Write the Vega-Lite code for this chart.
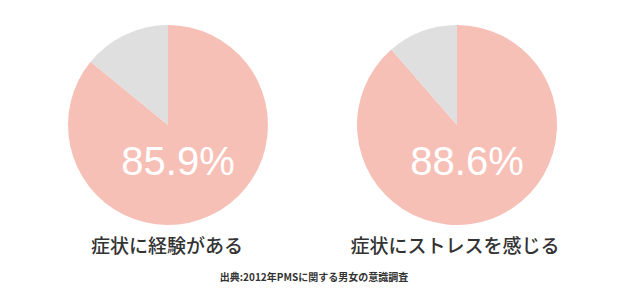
{
  "$schema": "https://vega.github.io/schema/vega-lite/v6.json",
  "width": 640,
  "height": 306,
  "padding": 0,
  "autosize": {"type": "fit", "contains": "padding"},
  "background": "#ffffff",
  "config": {"view": {"stroke": null}},
  "datasets": {
    "pies": [
      {"chart": "経験", "part": "yes", "value": 85.9},
      {"chart": "経験", "part": "no", "value": 14.1},
      {"chart": "ストレス", "part": "yes", "value": 88.6},
      {"chart": "ストレス", "part": "no", "value": 11.4}
    ],
    "labels": [
      {"chart": "経験", "pct": "85.9%", "label": "症状に経験がある"},
      {"chart": "ストレス", "pct": "88.6%", "label": "症状にストレスを感じる"}
    ]
  },
  "layer": [
    {
      "data": {"name": "pies"},
      "transform": [
        {"calculate": "datum.part === 'yes' ? 0 : 1", "as": "ord"},
        {"stack": "value", "groupby": ["chart"], "sort": [{"field": "ord", "order": "ascending"}], "as": ["v0", "v1"]}
      ],
      "mark": {"type": "arc", "outerRadius": 100, "stroke": null},
      "encoding": {
        "x": {"field": "chart", "type": "nominal", "sort": ["経験", "ストレス"], "scale": {"type": "point", "range": [168, 457], "padding": 0}, "axis": null},
        "y": {"value": 125},
        "theta": {"field": "v0", "type": "quantitative", "scale": {"domain": [0, 100]}},
        "theta2": {"field": "v1"},
        "color": {"field": "part", "type": "nominal", "scale": {"domain": ["yes", "no"], "range": ["#f6c0b7", "#e0dfdf"]}, "legend": null}
      }
    },
    {
      "data": {"name": "labels"},
      "mark": {"type": "text", "font": "Liberation Sans", "fontSize": 40, "color": "#ffffff", "align": "center", "baseline": "middle", "dx": 10},
      "encoding": {
        "x": {"field": "chart", "type": "nominal", "sort": ["経験", "ストレス"], "scale": {"type": "point", "range": [168, 457], "padding": 0}, "axis": null},
        "y": {"value": 163},
        "text": {"field": "pct"}
      }
    },
    {
      "data": {"name": "labels"},
      "transform": [{"filter": "datum.chart === '経験'"}],
      "mark": {"type": "text", "font": "Noto Sans CJK JP", "fontWeight": 500, "fontSize": 19, "letterSpacing": 1.6, "color": "#333333", "align": "center", "baseline": "middle", "dx": -1},
      "encoding": {
        "x": {"field": "chart", "type": "nominal", "sort": ["経験", "ストレス"], "scale": {"type": "point", "range": [168, 457], "padding": 0}, "axis": null},
        "y": {"value": 247},
        "text": {"field": "label"}
      }
    },
    {
      "data": {"name": "labels"},
      "transform": [{"filter": "datum.chart === 'ストレス'"}],
      "mark": {"type": "text", "font": "Noto Sans CJK JP", "fontWeight": 500, "fontSize": 19, "letterSpacing": 0, "color": "#333333", "align": "center", "baseline": "middle", "dx": -2},
      "encoding": {
        "x": {"field": "chart", "type": "nominal", "sort": ["経験", "ストレス"], "scale": {"type": "point", "range": [168, 457], "padding": 0}, "axis": null},
        "y": {"value": 247},
        "text": {"field": "label"}
      }
    },
    {
      "data": {"values": [{"source": "出典:2012年PMSに関する男女の意識調査"}]},
      "mark": {"type": "text", "font": "Noto Sans CJK JP", "fontWeight": "bold", "fontSize": 10, "color": "#333333", "align": "center", "baseline": "middle"},
      "encoding": {
        "x": {"value": 314},
        "y": {"value": 278},
        "text": {"field": "source"}
      }
    }
  ]
}
